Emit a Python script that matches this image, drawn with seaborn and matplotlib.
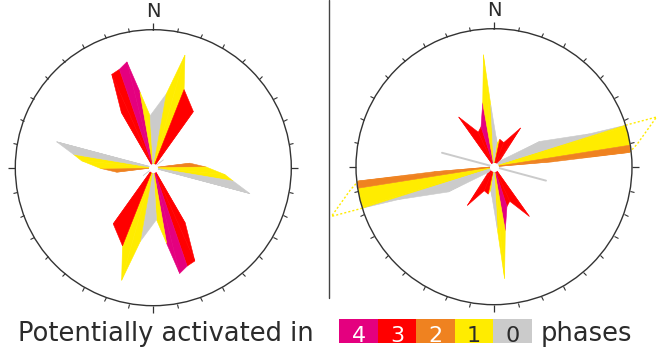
import numpy as np
import matplotlib.pyplot as plt
from matplotlib.patches import Rectangle
from matplotlib.lines import Line2D
import seaborn as sns

sns.set_theme(style="white")
plt.rcParams["font.family"] = ["DejaVu Sans"]
plt.rcParams["xtick.top"] = True

TEXT = "#2b2b2b"

# number of phases in which a strike direction is potentially activated
phase_labels = ["4", "3", "2", "1", "0"]
phase_colors = sns.color_palette(["#E4007F", "#FF0000", "#EF8220", "#FFEC00", "#CBCBCB"])
phase_text = ["white", "white", "white", TEXT, TEXT]

# Rose outlines over half a circle (axial data, mirrored by 180 deg).
# azimuth in degrees, radius in % of the circle, phase of the wedge that starts at the vertex
left_az = [-140, -135, -128, -120, -100, -97, -90.7, -84.5, -80.5, -75, -70,
           -31, -30, -24, -19, -14, -10, -3.5, 10, 15.7, 21.5, 35.5, 37, 40]
left_r = [0, 0, 9.4, 0, 0, 26.8, 38.4, 52.2, 58.7, 72.5, 3,
          0, 46.4, 74, 75.4, 79, 55.8, 37.7, 54.3, 84.8, 60.9, 50, 0, 0]
left_phase = [None, 0, 0, None, 2, 2, 1, 1, 0, 0, None,
              3, 3, 3, 4, 4, 1, 0, 1, 1, 3, 3, None, None]

right_az = [-95, -37, -35.4, -24.5, -18, -10, -5.4, -3, 4, 8, 12, 22, 34.5,
            45, 61, 71, 72.5, 73, 81, 84, 85.2, 86]
right_r = [0, 0, 44.2, 27.5, 30.4, 47.1, 81.5, 44.9, 21.7, 17.4, 20.3, 18.8, 34.1,
           5.8, 37.7, 73.2, 100, 123.2, 105.1, 98.6, 43.5, 0]
right_phase = [None, 3, 3, 3, 4, 1, 1, 0, 0, 1, 3, 3, 3,
               0, 0, 0, 1, 1, 2, 2, 2, None]

# part of the right rose that runs past the circle (dotted outline)
right_over_az = [72.5, 73, 81, 84]
right_over_r = [100, 123.2, 105.1, 98.6]

# thin single trace in the right rose
right_trace_az = -75
right_trace_r = 39


def draw_rose(ax, az, r, phase):
    for flip in (0, 180):
        for i in range(len(az) - 1):
            p = phase[i]
            if p is None:
                continue
            c = phase_colors[phase_labels.index(str(p))]
            th = np.deg2rad([az[i] + flip, az[i] + flip, az[i + 1] + flip])
            ax.fill(th, [0, r[i], r[i + 1]], color=c, lw=0.4, ec=c, zorder=2)


def style_axes(ax, cy):
    ax.set_theta_zero_location("N")
    ax.set_theta_direction(-1)
    ax.set_rlim(0, 100)
    ax.set_yticks([])
    ax.grid(False)
    ax.set_facecolor("white")
    ax.set_xticks(np.deg2rad([0, 90, 180, 270]))
    ax.set_xticks(np.deg2rad(np.arange(0, 360, 10)), minor=True)
    ax.set_xticklabels([])
    # outer ring ticks only
    ax.tick_params(axis="x", which="both", bottom=False, top=True)
    ax.tick_params(axis="x", which="major", direction="out", length=5, width=0.9, color="#333333")
    ax.tick_params(axis="x", which="minor", direction="out", length=3.2, width=0.8, color="#333333")
    ax.spines["polar"].set_color("#333333")
    ax.spines["polar"].set_linewidth(1.0)
    ax.text(0, cy, "N", ha="center", va="center", fontsize=14, color=TEXT, clip_on=False)
    ax.plot(0, 0, "o", ms=5.5, color="white", mec="white", zorder=5)


fig = plt.figure(figsize=(6.58, 3.57), dpi=100)

ax1 = fig.add_axes([0.02325, 0.1437, 0.41945, 0.77311], projection="polar")
style_axes(ax1, 113.5)
draw_rose(ax1, left_az, left_r, left_phase)

ax2 = fig.add_axes([0.54103, 0.1465, 0.41945, 0.77311], projection="polar")
style_axes(ax2, 113)
draw_rose(ax2, right_az, right_r, right_phase)
for flip in (0, 180):
    ax2.plot(np.deg2rad(np.array(right_over_az) + flip), right_over_r, color="#FFEC00",
             lw=1.0, ls=(0, (1.5, 1.5)), clip_on=False, zorder=1)
    ax2.plot(np.deg2rad([right_trace_az + flip] * 2), [0, right_trace_r],
             color="#CBCBCB", lw=1.4, zorder=2)

# separator between the two roses
fig.add_artist(Line2D([328.5 / 658] * 2, [1.0, (357 - 298) / 357], color="#444444", lw=1.0))

# legend row
fig.text(18.5 / 658, (357 - 341) / 357, "Potentially activated in", fontsize=18.5,
         color=TEXT, ha="left", va="baseline")
bx0, bw = 339.3, 38.5
for k, (lab, col, tc) in enumerate(zip(phase_labels, phase_colors, phase_text)):
    x = (bx0 + k * bw) / 658
    fig.add_artist(Rectangle((x, (357 - 343.3) / 357), bw / 658, 24 / 357,
                             transform=fig.transFigure, facecolor=col, edgecolor="none"))
    fig.text(x + bw / 2 / 658, (357 - 341.5) / 357, lab, fontsize=16, color=tc,
             ha="center", va="baseline")
fig.text(540.7 / 658, (357 - 341) / 357, "phases", fontsize=18.5, color=TEXT,
         ha="left", va="baseline")

fig.savefig("out.png", dpi=100)
